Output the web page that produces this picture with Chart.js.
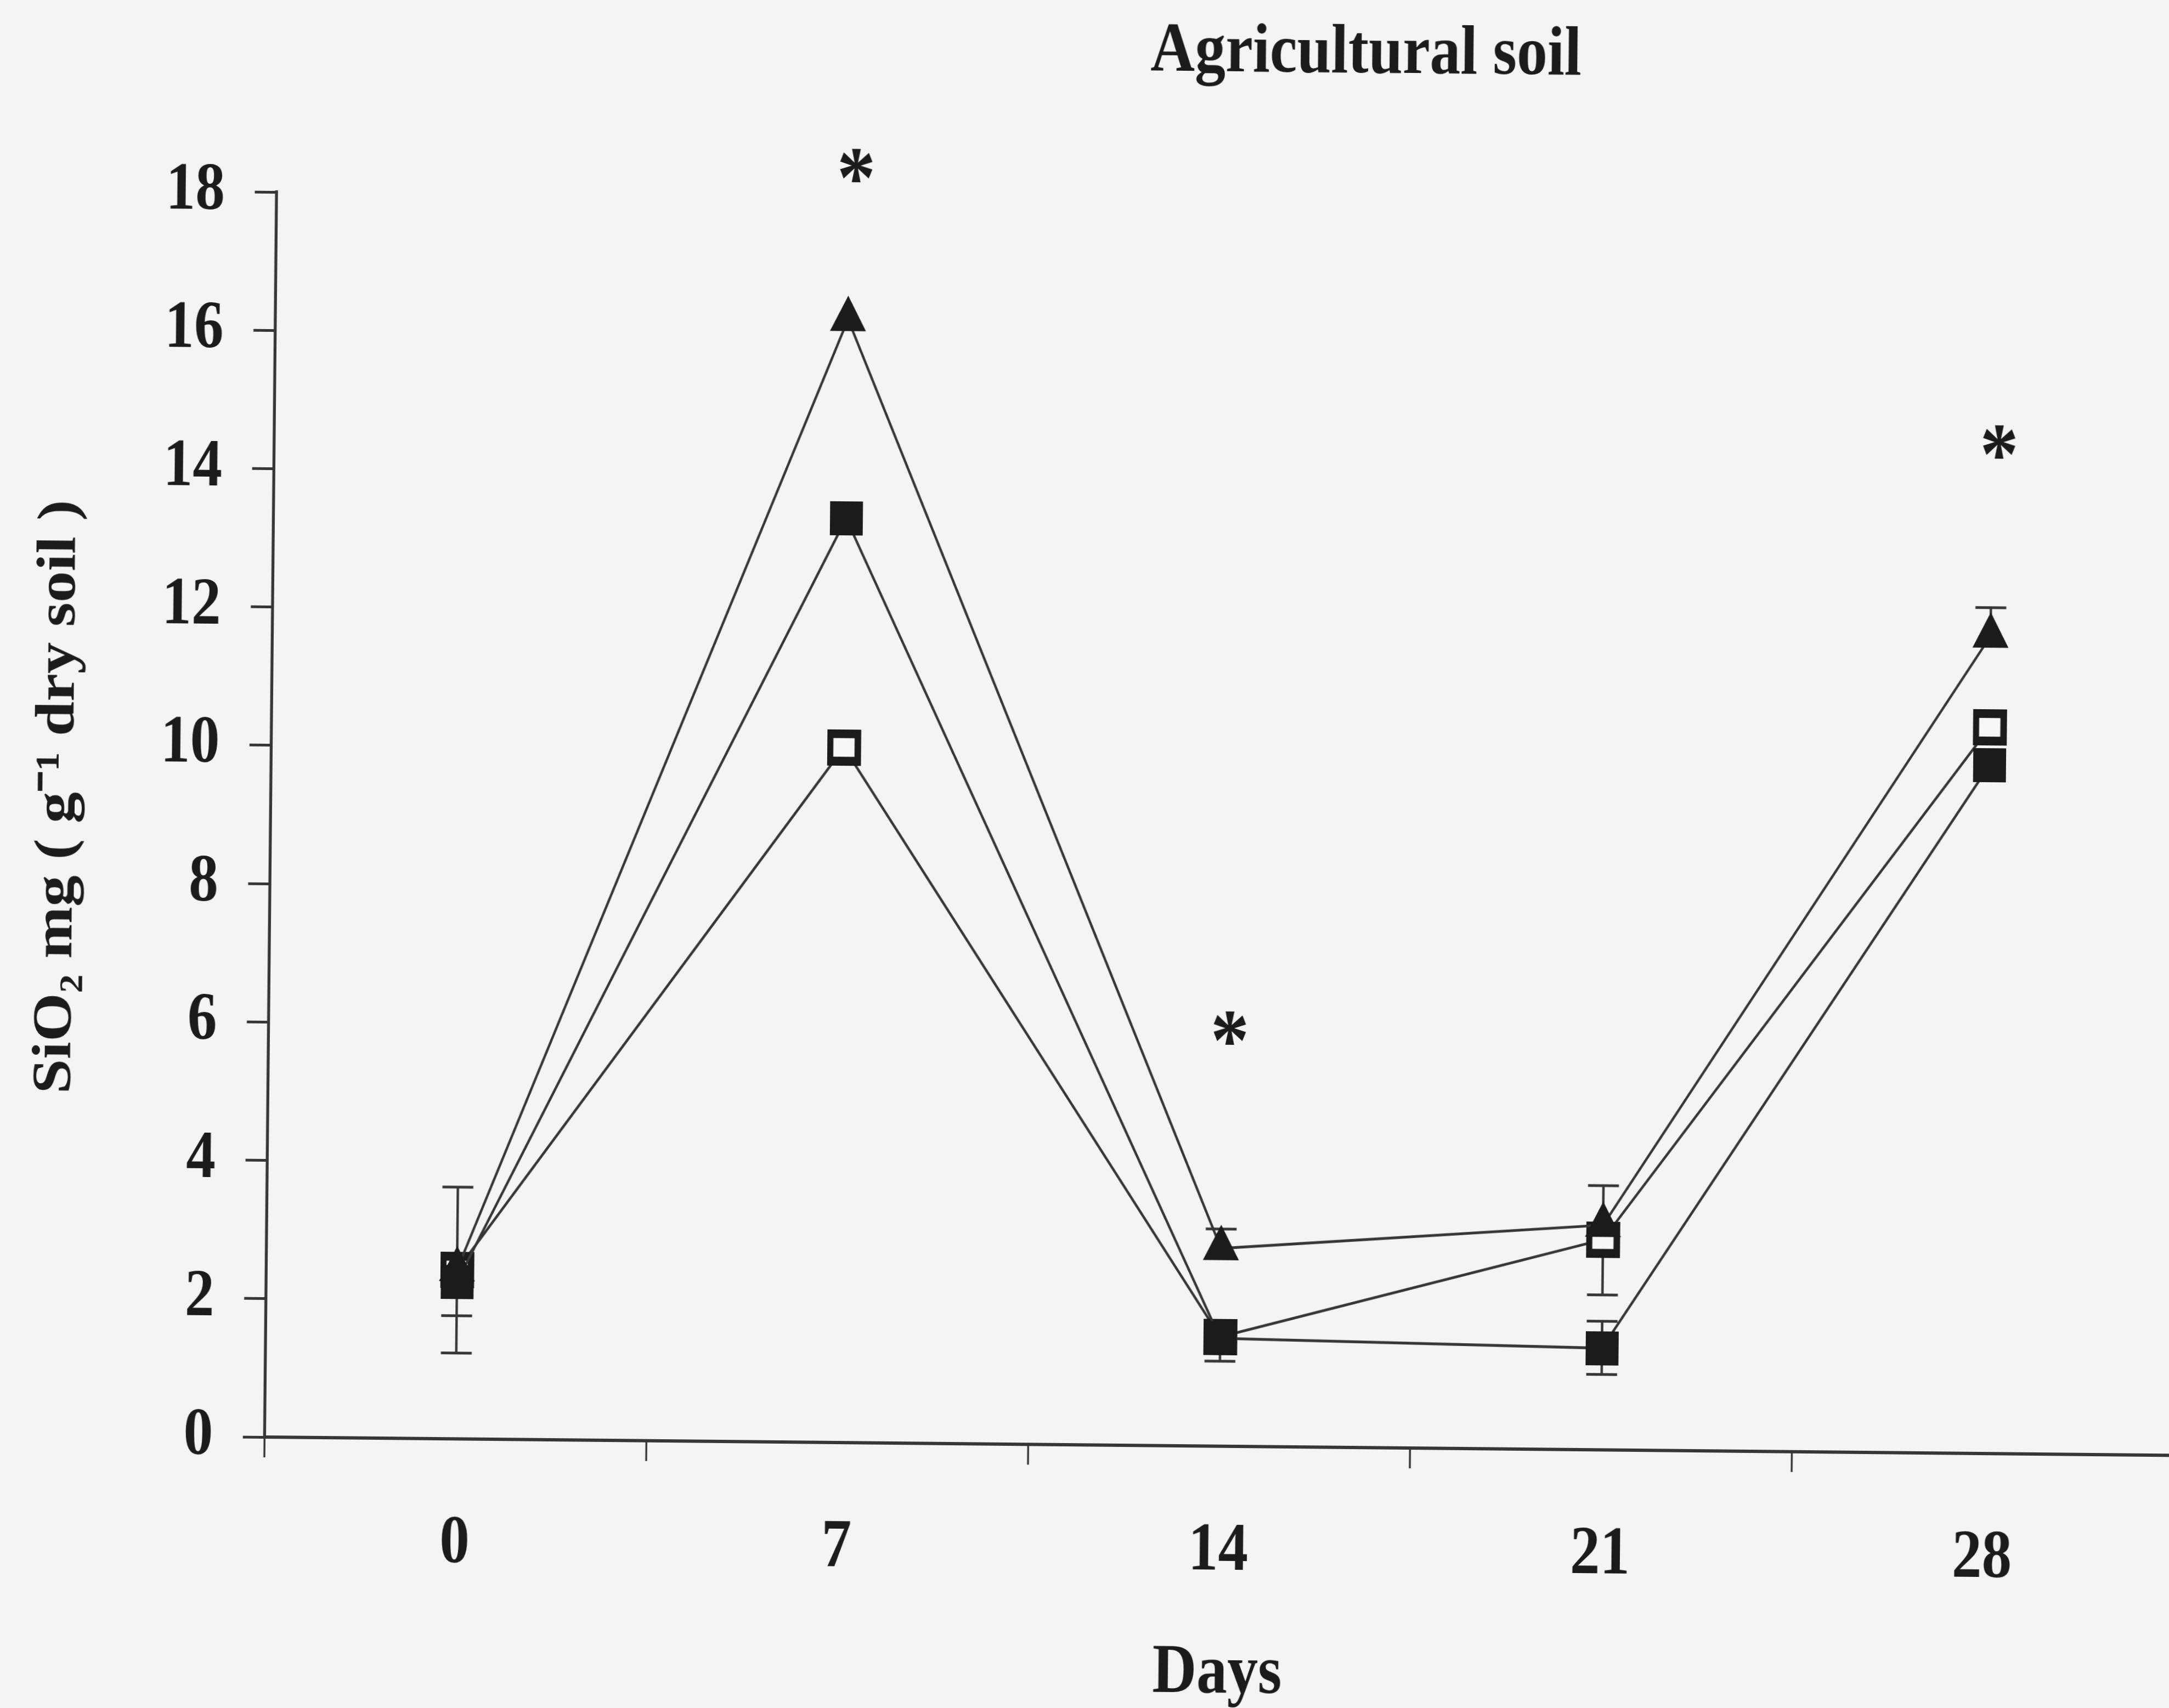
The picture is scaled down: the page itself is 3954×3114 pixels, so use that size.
<!DOCTYPE html>
<html>
<head>
<meta charset="utf-8">
<title>Agricultural soil</title>
<script src="https://cdn.jsdelivr.net/npm/chart.js@4.4.1/dist/chart.umd.min.js"></script>
<style>
  html, body { margin: 0; padding: 0; background: #f4f4f2; overflow: hidden; }
  body { width: 3954px; height: 3114px; }
  /* the printed figure is slightly narrow and sits a little askew on the page */
  #soilChart {
    display: block;
    width: 4503px;
    height: 3114px;
    transform-origin: 0 0;
    transform: translate(482px, 2620px) rotate(0.55deg) translate(-482px, -2620px) scaleX(0.88);
  }
</style>
</head>
<body>
<canvas id="soilChart" width="4503" height="3114"></canvas>
<script>
// Sampling days
const days = ['0', '7', '14', '21', '28'];

// SiO2 (mg per g dry soil), one array per treatment
const triangleValues = [2.45, 16.24, 2.86, 3.25, 11.82];
const filledSquareValues = [2.27, 13.36, 1.56, 1.47, 9.95];
const openSquareValues = [2.44, 10.05, 1.58, 3.04, 10.50];

// Error bars, upward and downward lengths
const trianglePlus = [1.19, 0, 0.28, 0.57, 0.41];
const triangleMinus = [0, 0, 0, 0, 0];
const filledSquarePlus = [0, 0, 0, 0.39, 0];
const filledSquareMinus = [0.49, 0, 0.33, 0.38, 0];
const openSquarePlus = [0, 0, 0, 0, 0];
const openSquareMinus = [1.2, 0, 0, 0.8, 0];

// Significance marks (value where each * sits, null = none)
const starValues = [null, 18.44, 6.02, null, 14.60];

// Y axis ticks
const yTicks = [0, 2, 4, 6, 8, 10, 12, 14, 16, 18];

const chartTitle = 'Agricultural soil';
const xTitle = 'Days';
const yTitle = '\u2002SiO\u2082 mg ( g\u207B\u00B9 dry soil )';

const inkColor = '#1b1b1b';
const lineColor = '#363636';
const serif = '"Liberation Serif", "Times New Roman", serif';

// Square markers drawn as small canvases so they can be a bit wider than tall
function squareMarker(w, h, fill, edgeX, edgeY) {
  const c = document.createElement('canvas');
  c.width = w;
  c.height = h;
  const g = c.getContext('2d');
  g.fillStyle = inkColor;
  g.fillRect(0, 0, w, h);
  if (fill) {
    g.fillStyle = fill;
    g.fillRect(edgeX, edgeY, w - 2 * edgeX, h - 2 * edgeY);
  }
  return c;
}

const filledSquare = squareMarker(68, 62, null, 0, 0);
const openSquare = squareMarker(70, 66, '#f7f7f5', 13, 16);

// Vertical error bars with caps, drawn under the lines and markers
const errorBars = {
  id: 'errorBars',
  beforeDatasetsDraw(chart) {
    const { ctx, scales: { x, y } } = chart;
    const cap = 32;
    ctx.save();
    ctx.strokeStyle = lineColor;
    ctx.lineWidth = 5;
    chart.data.datasets.forEach(ds => {
      ds.data.forEach((v, i) => {
        const px = x.getPixelForValue(i);
        const base = y.getPixelForValue(v);
        [[ds.errPlus[i], 1], [ds.errMinus[i], -1]].forEach(([e, dir]) => {
          if (!e) return;
          const end = y.getPixelForValue(v + dir * e);
          ctx.beginPath();
          ctx.moveTo(px, base);
          ctx.lineTo(px, end);
          ctx.moveTo(px - cap, end);
          ctx.lineTo(px + cap, end);
          ctx.stroke();
        });
      });
    });
    ctx.restore();
  }
};

// Asterisks above the days with a significant difference, plus the figure title
const annotations = {
  id: 'annotations',
  afterDraw(chart) {
    const { ctx, chartArea, scales: { x, y } } = chart;
    ctx.save();
    ctx.fillStyle = inkColor;
    ctx.textAlign = 'center';
    ctx.textBaseline = 'alphabetic';
    ctx.font = 'bold 160px ' + serif;
    starValues.forEach((v, i) => {
      if (v === null) return;
      ctx.fillText('*', x.getPixelForValue(i) + 14, y.getPixelForValue(v) + 73);
    });

    ctx.textBaseline = 'middle';
    ctx.font = 'bold 127px ' + serif;
    ctx.fillText(chartTitle, chartArea.left + chartArea.width * 0.57, 80);
    ctx.restore();
  }
};

function makeSeries(label, data, plus, minus, style, radius) {
  return {
    label: label,
    data: data,
    errPlus: plus,
    errMinus: minus,
    borderColor: lineColor,
    borderWidth: 5,
    tension: 0,
    pointStyle: style,
    pointRadius: radius,
    pointHoverRadius: radius,
    pointBackgroundColor: inkColor,
    pointBorderColor: inkColor,
    pointBorderWidth: 0,
    fill: false
  };
}

new Chart(document.getElementById('soilChart'), {
  type: 'line',
  data: {
    labels: days,
    datasets: [
      makeSeries('Triangle', triangleValues, trianglePlus, triangleMinus, 'triangle', 43),
      makeSeries('Filled square', filledSquareValues, filledSquarePlus, filledSquareMinus, filledSquare, 30),
      makeSeries('Open square', openSquareValues, openSquarePlus, openSquareMinus, openSquare, 30)
    ]
  },
  options: {
    responsive: false,
    animation: false,
    devicePixelRatio: 1,
    layout: {
      // no extra room for markers: the x axis runs off the right edge
      autoPadding: false,
      padding: { top: 350, left: 0, right: 0, bottom: 0 }
    },
    plugins: {
      legend: { display: false },
      tooltip: { enabled: false },
      title: { display: false }
    },
    scales: {
      x: {
        type: 'category',
        offset: true,
        afterFit: scale => {
          scale.height = 3114 - 2620;
          scale.paddingLeft = 0;
          scale.paddingRight = 0;
        },
        grid: {
          offset: true,
          drawOnChartArea: false,
          drawTicks: true,
          tickLength: 37,
          lineWidth: 4,
          color: lineColor
        },
        border: { display: true, color: lineColor, width: 6 },
        ticks: {
          color: inkColor,
          padding: 82,
          maxRotation: 0,
          font: { family: serif, size: 124, weight: 'bold' }
        },
        title: {
          display: true,
          text: xTitle,
          color: inkColor,
          padding: { top: 0, bottom: 2 },
          font: { family: serif, size: 127, weight: 'bold' }
        }
      },
      y: {
        min: 0,
        max: 18,
        afterFit: scale => { scale.width = 548; },
        afterBuildTicks: scale => { scale.ticks = yTicks.map(v => ({ value: v })); },
        grid: {
          drawOnChartArea: false,
          drawTicks: true,
          tickLength: 45,
          lineWidth: 5,
          color: lineColor
        },
        border: { display: true, color: lineColor, width: 6 },
        ticks: {
          color: inkColor,
          padding: 62,
          font: { family: serif, size: 122, weight: 'bold' }
        },
        title: {
          display: true,
          text: yTitle,
          color: inkColor,
          padding: { top: 40, bottom: 0 },
          font: { family: serif, size: 114, weight: 'bold' }
        }
      }
    }
  },
  plugins: [errorBars, annotations]
});
</script>
</body>
</html>
